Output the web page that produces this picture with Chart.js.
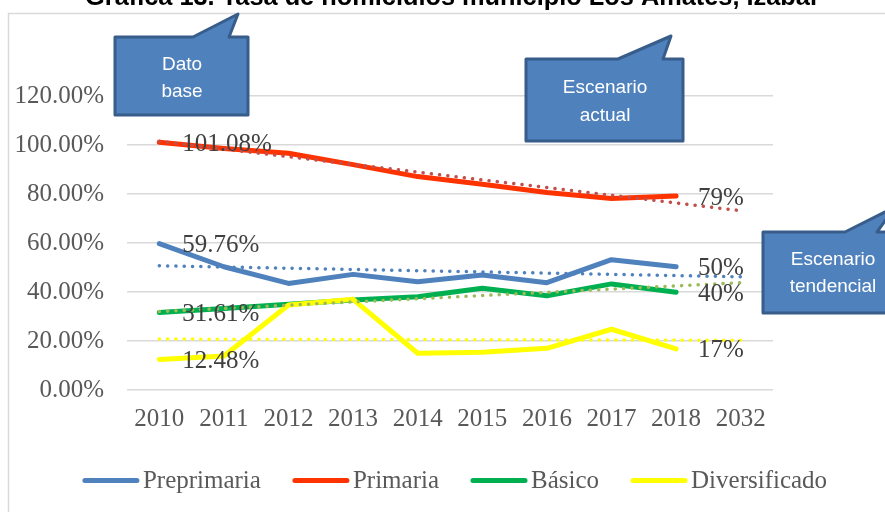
<!DOCTYPE html>
<html lang="es">
<head>
<meta charset="utf-8">
<title>Gráfica 13</title>
<script src="https://cdn.jsdelivr.net/npm/chart.js@4.4.1/dist/chart.umd.min.js"></script>
<style>
  html, body { margin: 0; padding: 0; background: #ffffff; }
  #wrap { width: 885px; height: 512px; position: relative; overflow: hidden; }
</style>
</head>
<body>
<div id="wrap"><canvas id="grafica" width="885" height="512"></canvas></div>
<script>
const titulo = "Gráfica 13. Tasa de homicidios municipio Los Amates, Izabal";
const years = ["2010", "2011", "2012", "2013", "2014", "2015", "2016", "2017", "2018", "2032"];

const preprimaria   = [59.76, 50.3, 43.5, 47.2, 44.2, 46.9, 43.8, 53.2, 50.3, null];
const primaria      = [101.08, 98.6, 96.6, 92.0, 87.1, 84.0, 80.6, 78.2, 79.2, null];
const basico        = [31.61, 33.3, 35.0, 36.7, 38.1, 41.5, 38.5, 43.3, 39.9, null];
const diversificado = [12.48, 13.9, 34.7, 37.0, 15.0, 15.4, 17.0, 24.8, 16.8, null];

// tendencias lineales: valor en 2010 y valor proyectado a 2032
const tendPreprimaria   = [50.7, 46.2];
const tendPrimaria      = [101.5, 73.2];
const tendBasico        = [32.0, 43.8];
const tendDiversificado = [20.8, 20.3];

const yMax = 120;
const yStep = 20;

const callouts = [
  { lines: ["Dato", "base"] },
  { lines: ["Escenario", "actual"] },
  { lines: ["Escenario", "tendencial"] }
];

const serif = "\"Liberation Serif\", \"DejaVu Serif\", serif";
const sans = "\"Liberation Sans\", Arial, sans-serif";

function trendSeries(pair) {
  const arr = years.map(() => null);
  arr[0] = pair[0];
  arr[arr.length - 1] = pair[1];
  return arr;
}

function mainLine(label, data, color, order) {
  return {
    label, data, order,
    borderColor: color,
    backgroundColor: color,
    borderWidth: 5,
    borderCapStyle: "round",
    borderJoinStyle: "round",
    pointRadius: 0,
    tension: 0,
    isMain: true
  };
}

function trendLine(data, color) {
  return {
    label: "",
    data: trendSeries(data),
    order: 0,
    borderColor: color,
    borderWidth: 3.5,
    borderDash: [0.1, 8.2],
    borderCapStyle: "round",
    pointRadius: 0,
    spanGaps: true,
    isMain: false
  };
}

const decor = {
  id: "decor",
  beforeDraw(chart) {
    const ctx = chart.ctx;
    ctx.save();
    ctx.strokeStyle = "#D9D9D9";
    ctx.lineWidth = 1.5;
    ctx.strokeRect(8.5, 13.5, 900, 520);
    // titulo (cortado en la parte superior)
    ctx.fillStyle = "#000000";
    ctx.font = "bold 22px " + sans;
    const w = ctx.measureText(titulo).width;
    const size = 22 * 732 / w;
    ctx.font = "bold " + size.toFixed(2) + "px " + sans;
    ctx.textAlign = "center";
    ctx.textBaseline = "alphabetic";
    ctx.fillText(titulo, 451, 5);
    ctx.restore();
  },
  afterDatasetsDraw(chart) {
    const ctx = chart.ctx;
    ctx.save();
    ctx.font = "25px " + serif;
    ctx.fillStyle = "#404040";
    ctx.textAlign = "left";
    ctx.textBaseline = "middle";
    chart.data.datasets.forEach((ds, i) => {
      if (!ds.isMain) return;
      const pts = chart.getDatasetMeta(i).data;
      const first = pts[0];
      ctx.fillText(ds.data[0].toFixed(2) + "%", first.x + 23, first.y + 2);
      let last = ds.data.length - 1;
      while (ds.data[last] == null) last--;
      ctx.fillText(ds.data[last].toFixed(0) + "%", pts[last].x + 22, pts[last].y + 2);
    });
    ctx.restore();
  },
  afterDraw(chart) {
    const ctx = chart.ctx;
    ctx.save();
    // leyenda
    const items = chart.data.datasets.filter(d => d.isMain);
    ctx.font = "25px " + serif;
    const lineLen = 56, gapText = 4, gapItem = 32;
    let total = 0;
    items.forEach((d, k) => {
      total += lineLen + gapText + ctx.measureText(d.label).width;
      if (k < items.length - 1) total += gapItem;
    });
    let x = 455 - total / 2;
    const ly = 480.5;
    items.forEach(d => {
      ctx.strokeStyle = d.borderColor;
      ctx.lineWidth = 5;
      ctx.lineCap = "round";
      ctx.beginPath();
      ctx.moveTo(x + 2, ly);
      ctx.lineTo(x + lineLen - 2, ly);
      ctx.stroke();
      x += lineLen + gapText;
      ctx.fillStyle = "#595959";
      ctx.textAlign = "left";
      ctx.textBaseline = "middle";
      ctx.fillText(d.label, x, ly + 1);
      x += ctx.measureText(d.label).width + gapItem;
    });

    // globos de texto
    const shapes = [
      { box: [115, 37, 248, 115], tail: [193, 238, 14, 229], text: [182, 65, 92] },
      { box: [526, 59, 683, 141], tail: [618, 671, 36, 663], text: [605, 88, 116] },
      { box: [763, 232, 920, 313], tail: [845, 895, 207, 877], text: [833, 260, 287] }
    ];
    shapes.forEach((s, k) => {
      const [x1, y1, x2, y2] = s.box;
      const [ta, tx, ty, tb] = s.tail;
      ctx.beginPath();
      ctx.moveTo(x1, y1);
      ctx.lineTo(ta, y1);
      ctx.lineTo(tx, ty);
      ctx.lineTo(tb, y1);
      ctx.lineTo(x2, y1);
      ctx.lineTo(x2, y2);
      ctx.lineTo(x1, y2);
      ctx.closePath();
      ctx.fillStyle = "#4F81BD";
      ctx.fill();
      ctx.strokeStyle = "#385D8A";
      ctx.lineWidth = 3;
      ctx.lineJoin = "round";
      ctx.stroke();
      ctx.fillStyle = "#FFFFFF";
      ctx.font = "19px " + sans;
      ctx.textAlign = "center";
      ctx.textBaseline = "middle";
      ctx.fillText(callouts[k].lines[0], s.text[0], s.text[1]);
      ctx.fillText(callouts[k].lines[1], s.text[0], s.text[2]);
    });
    ctx.restore();
  }
};

function renderChart() {
  const ctx = document.getElementById("grafica").getContext("2d");
  new Chart(ctx, {
    type: "line",
    data: {
      labels: years,
      datasets: [
        mainLine("Preprimaria", preprimaria, "#4F81BD", 4),
        mainLine("Primaria", primaria, "#FF3300", 3),
        mainLine("Básico", basico, "#00B050", 2),
        mainLine("Diversificado", diversificado, "#FFFF00", 1),
        trendLine(tendPreprimaria, "#4F81BD"),
        trendLine(tendPrimaria, "#C0504D"),
        trendLine(tendBasico, "#9BBB59"),
        trendLine(tendDiversificado, "#FFFF00")
      ]
    },
    options: {
      responsive: false,
      animation: false,
      devicePixelRatio: 1,
      layout: { padding: { top: 96, right: 112, left: 0, bottom: 0 } },
      plugins: {
        legend: { display: false },
        title: { display: false },
        tooltip: { enabled: false }
      },
      scales: {
        x: {
          offset: true,
          grid: { display: false, drawTicks: false },
          border: { display: false },
          ticks: {
            color: "#595959",
            font: { family: serif, size: 25 },
            padding: 14,
            maxRotation: 0,
            autoSkip: false
          },
          afterFit: (scale) => { scale.height = 122; }
        },
        y: {
          min: 0,
          max: yMax,
          grid: { color: "#D9D9D9", lineWidth: 1.5, drawTicks: false },
          border: { display: false },
          ticks: {
            stepSize: yStep,
            color: "#595959",
            font: { family: serif, size: 25 },
            padding: 23,
            callback: (v) => v.toFixed(2) + "%"
          },
          afterFit: (scale) => { scale.width = 127; }
        }
      }
    },
    plugins: [decor]
  });
}

document.addEventListener("DOMContentLoaded", renderChart);
</script>
</body>
</html>
